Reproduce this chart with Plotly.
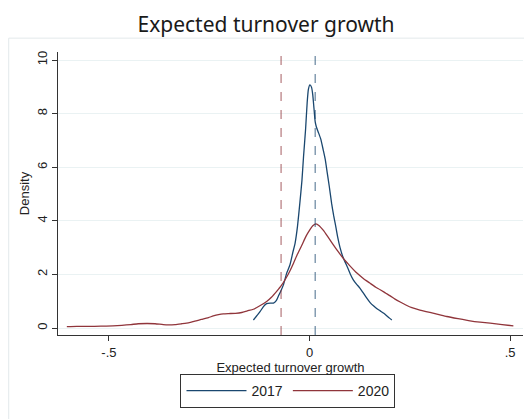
import plotly.graph_objects as go

# 2017 kernel density
x2017 = [-0.140, -0.132, -0.123, -0.115, -0.107, -0.098, -0.090, -0.083, -0.078, -0.071,
         -0.065, -0.057, -0.049, -0.042, -0.036, -0.030, -0.024, -0.019, -0.015, -0.010,
         -0.006, -0.003, 0.001, 0.005, 0.008, 0.011, 0.014, 0.017, 0.022, 0.028,
         0.034, 0.039, 0.044, 0.049, 0.055, 0.060, 0.064, 0.070, 0.076, 0.082,
         0.089, 0.095, 0.102, 0.109, 0.118, 0.125, 0.132, 0.140, 0.151, 0.160,
         0.168, 0.176, 0.185, 0.193, 0.200, 0.205]
d2017 = [0.30, 0.45, 0.62, 0.80, 0.91, 0.93, 0.93, 1.02, 1.18, 1.40,
         1.62, 2.05, 2.35, 2.80, 3.17, 3.80, 4.70, 5.50, 6.40, 7.40,
         8.40, 8.90, 9.07, 8.98, 8.70, 8.20, 7.70, 7.50, 7.30, 7.05,
         6.65, 6.30, 5.80, 5.30, 4.65, 4.20, 3.90, 3.40, 3.00, 2.70,
         2.45, 2.25, 2.00, 1.80, 1.62, 1.50, 1.35, 1.17, 0.95, 0.82,
         0.72, 0.64, 0.55, 0.45, 0.36, 0.30]

# 2020 kernel density
x2020 = [-0.605, -0.580, -0.552, -0.520, -0.490, -0.468, -0.445, -0.427, -0.405, -0.385,
         -0.365, -0.352, -0.335, -0.319, -0.300, -0.286, -0.270, -0.252, -0.240, -0.227,
         -0.215, -0.202, -0.185, -0.169, -0.155, -0.140, -0.125, -0.107, -0.095, -0.082,
         -0.071, -0.061, -0.050, -0.040, -0.030, -0.019, -0.009, 0.001, 0.008, 0.016,
         0.024, 0.034, 0.045, 0.055, 0.070, 0.084, 0.100, 0.118, 0.134, 0.150,
         0.165, 0.176, 0.190, 0.201, 0.213, 0.226, 0.240, 0.255, 0.275, 0.300,
         0.320, 0.342, 0.370, 0.400, 0.425, 0.450, 0.480, 0.508]
d2020 = [0.05, 0.06, 0.06, 0.07, 0.08, 0.10, 0.13, 0.16, 0.17, 0.16,
         0.13, 0.12, 0.13, 0.16, 0.20, 0.26, 0.32, 0.39, 0.45, 0.50,
         0.53, 0.54, 0.55, 0.58, 0.64, 0.70, 0.82, 0.99, 1.15, 1.37,
         1.57, 1.80, 2.10, 2.42, 2.76, 3.10, 3.42, 3.67, 3.82, 3.89,
         3.82, 3.65, 3.42, 3.20, 2.88, 2.60, 2.33, 2.05, 1.85, 1.68,
         1.52, 1.43, 1.30, 1.20, 1.08, 0.97, 0.86, 0.76, 0.67, 0.58,
         0.51, 0.43, 0.35, 0.27, 0.22, 0.18, 0.13, 0.08]

# reference lines (means)
series_names = ["2017", "2020"]
mean_lines = [0.014, -0.071]

x_ticks = [-0.5, 0, 0.5]
x_tick_labels = ["-.5", "0", ".5"]
y_ticks = [0, 2, 4, 6, 8, 10]
y_tick_labels = ["0", "2", "4", "6", "8", "10"]

blue = "#1a476f"
red = "#90353b"

fig = go.Figure()
fig.add_trace(go.Scatter(x=x2017, y=d2017, mode="lines", name=series_names[0],
                         line=dict(color=blue, width=1.3, shape="spline", smoothing=0.5)))
fig.add_trace(go.Scatter(x=x2020, y=d2020, mode="lines", name=series_names[1],
                         line=dict(color=red, width=1.3, shape="spline", smoothing=0.5)))

for xv, col in zip(mean_lines, [blue, red]):
    fig.add_shape(type="line", x0=xv, x1=xv, y0=0, y1=1, xref="x", yref="paper",
                  line=dict(color=col, width=1, dash="dash"), opacity=0.8)

# outer graph-region frame (page has an 8px body margin)
fig.add_shape(type="rect", xref="paper", yref="paper",
              x0=-0.106, x1=1.006, y0=-0.30, y1=1.049,
              line=dict(color="#e3e9eb", width=1), fillcolor="rgba(0,0,0,0)", layer="below")

axis_font = dict(family="Liberation Sans, Arial, sans-serif", size=13, color="#222")

fig.update_layout(
    width=524, height=411,
    margin=dict(l=50, r=9, t=44, b=84, autoexpand=False),
    paper_bgcolor="white", plot_bgcolor="white",
    title=dict(text="Expected turnover growth", x=0.4924, xref="container", xanchor="center",
               y=0.96, yref="container", yanchor="middle",
               font=dict(family="Noto Sans, sans-serif", size=21, color="#1a1a1a")),
    showlegend=True,
    legend=dict(orientation="h", x=0.4946, xanchor="center", y=-0.138, yanchor="top",
                bordercolor="#333", borderwidth=1,
                font=dict(family="Liberation Sans, Arial, sans-serif", size=14, color="#222"),
                itemwidth=60, tracegroupgap=0),
    xaxis=dict(range=[-0.627, 0.532], tickvals=x_ticks, ticktext=x_tick_labels, automargin=False,
               showgrid=False, zeroline=False, showline=True, linecolor="#333", linewidth=1,
               ticks="outside", ticklen=5, tickcolor="#333", tickfont=axis_font,
               title=dict(text="Expected turnover growth", font=axis_font, standoff=2)),
    yaxis=dict(range=[-0.26, 10.3], tickvals=y_ticks, ticktext=y_tick_labels, tickangle=-90,
               automargin=False,
               showgrid=True, gridcolor="#eaf2f3", gridwidth=1, zeroline=False,
               showline=True, linecolor="#333", linewidth=1,
               ticks="outside", ticklen=5, tickcolor="#333", tickfont=axis_font,
               title=dict(text="Density", font=axis_font, standoff=2)),
)

fig.write_html("out.html")
